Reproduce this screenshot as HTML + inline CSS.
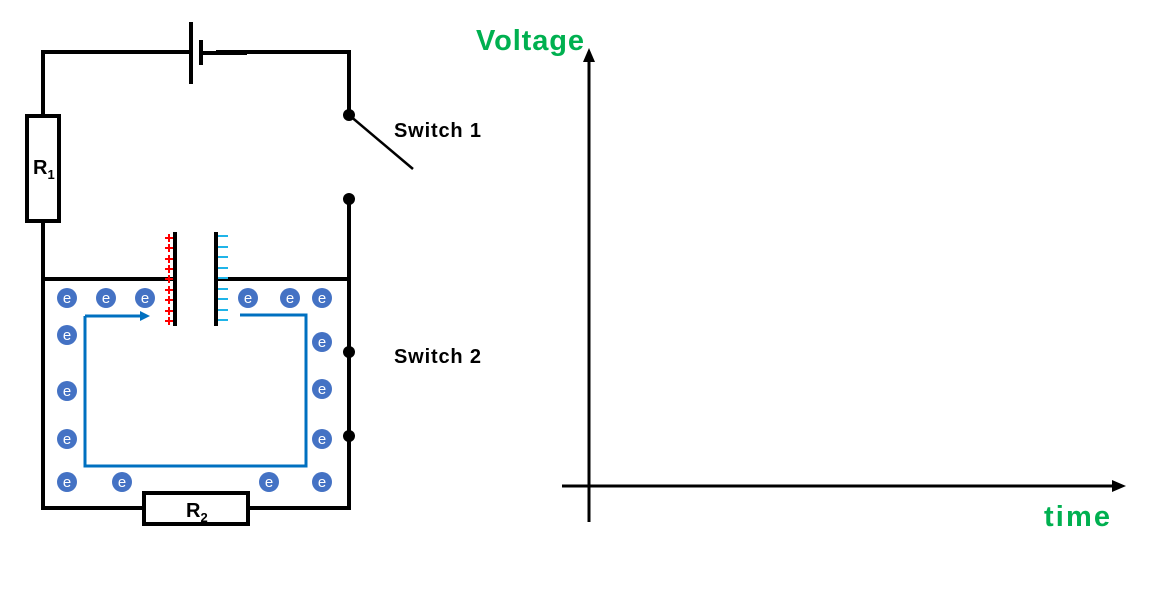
<!DOCTYPE html>
<html><head><style>
body{margin:0;background:#fff;width:1152px;height:592px;overflow:hidden}
</style></head><body>
<svg width="1152" height="592" viewBox="0 0 1152 592" xmlns="http://www.w3.org/2000/svg" font-family="Liberation Sans, sans-serif">
<g stroke="#000" stroke-width="4" fill="none">
<polyline points="43,116 43,52 191,52"/>
<polyline points="216,52 349,52 349,115"/>
<line x1="201" y1="53" x2="247" y2="53"/>
<line x1="191" y1="22" x2="191" y2="84"/>
<line x1="201" y1="40" x2="201" y2="65"/>
<rect x="27" y="116" width="32" height="105" fill="#fff"/>
<polyline points="43,221 43,508 144,508"/>
<polyline points="248,508 349,508 349,199"/>
<line x1="43" y1="279" x2="175" y2="279"/>
<line x1="216" y1="279" x2="349" y2="279"/>
<line x1="175" y1="232" x2="175" y2="326"/>
<line x1="216" y1="232" x2="216" y2="326"/>
<rect x="144" y="493" width="104" height="31" fill="#fff"/>
<line x1="349" y1="115" x2="413" y2="169" stroke-width="2.5"/>
<line x1="589" y1="522" x2="589" y2="58" stroke-width="3"/>
<line x1="562" y1="486" x2="1115" y2="486" stroke-width="3"/>
</g>
<polygon points="589,48 583,62 595,62" fill="#000"/>
<polygon points="1126,486 1112,480 1112,492" fill="#000"/>
<g fill="#000">
<circle cx="349" cy="115" r="6"/><circle cx="349" cy="199" r="6"/>
<circle cx="349" cy="352" r="6"/><circle cx="349" cy="436" r="6"/>
</g>
<g stroke="red" stroke-width="2">
<path d="M165,238h8M169,234v8 M165,248h8M169,244v8 M165,259h8M169,255v8 M165,269h8M169,265v8 M165,279h8M169,275v8 M165,290h8M169,286v8 M165,300h8M169,296v8 M165,311h8M169,307v8 M165,321h8M169,317v8"/>
</g>
<g stroke="#1fb4e8" stroke-width="2">
<path d="M218,236h10M218,247h10M218,257h10M218,268h10M218,278h10M218,289h10M218,299h10M218,310h10M218,320h10"/>
</g>
<g stroke="#0070c0" stroke-width="3" fill="none">
<polyline points="85,316 85,466 306,466 306,315 240,315"/>
<line x1="85" y1="316" x2="142" y2="316"/>
</g>
<polygon points="150,316 140,311 140,321" fill="#0070c0"/>
<g fill="#4472c4">
<circle cx="67" cy="298" r="10"/><circle cx="106" cy="298" r="10"/><circle cx="145" cy="298" r="10"/>
<circle cx="248" cy="298" r="10"/><circle cx="290" cy="298" r="10"/><circle cx="322" cy="298" r="10"/>
<circle cx="67" cy="335" r="10"/><circle cx="322" cy="342" r="10"/>
<circle cx="67" cy="391" r="10"/><circle cx="322" cy="389" r="10"/>
<circle cx="67" cy="439" r="10"/><circle cx="322" cy="439" r="10"/>
<circle cx="67" cy="482" r="10"/><circle cx="122" cy="482" r="10"/><circle cx="269" cy="482" r="10"/><circle cx="322" cy="482" r="10"/>
</g>
<g fill="#fff" font-size="15" text-anchor="middle">
<text x="67" y="303">e</text><text x="106" y="303">e</text><text x="145" y="303">e</text>
<text x="248" y="303">e</text><text x="290" y="303">e</text><text x="322" y="303">e</text>
<text x="67" y="340">e</text><text x="322" y="347">e</text>
<text x="67" y="396">e</text><text x="322" y="394">e</text>
<text x="67" y="444">e</text><text x="322" y="444">e</text>
<text x="67" y="487">e</text><text x="122" y="487">e</text><text x="269" y="487">e</text><text x="322" y="487">e</text>
</g>
<g fill="#000" font-weight="bold" font-size="20">
<text x="33" y="174">R<tspan font-size="13" dy="5">1</tspan></text>
<text x="186" y="517">R<tspan font-size="13" dy="5">2</tspan></text>
<text x="394" y="137" textLength="87">Switch 1</text>
<text x="394" y="363" textLength="87">Switch 2</text>
</g>
<g fill="#00b050" font-weight="bold" font-size="29">
<text x="476" y="50" textLength="108">Voltage</text>
<text x="1044" y="526" textLength="66">time</text>
</g>
</svg>
</body></html>
